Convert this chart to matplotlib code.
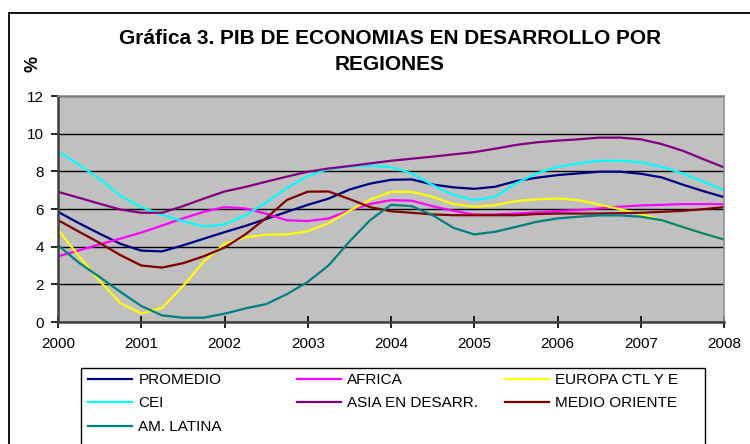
import numpy as np
import matplotlib.pyplot as plt
from matplotlib.patches import Rectangle

plt.rcParams['font.family'] = ['Liberation Sans', 'DejaVu Sans']

# trimestres 2000 - 2008
trimestres = np.arange(2000, 2008.01, 0.25)

promedio = [5.85, 5.25, 4.69, 4.15, 3.79, 3.75, 4.07, 4.42, 4.77, 5.1, 5.47, 5.85, 6.22, 6.55, 7.03, 7.35, 7.55,
            7.57, 7.3, 7.15, 7.07, 7.18, 7.48, 7.66, 7.8, 7.89, 7.98, 7.98, 7.87, 7.68, 7.3, 6.95, 6.63]
africa = [3.49, 3.8, 4.12, 4.43, 4.75, 5.12, 5.5, 5.85, 6.1, 6.03, 5.75, 5.4, 5.36, 5.5, 5.92, 6.27, 6.47,
          6.44, 6.15, 5.9, 5.71, 5.71, 5.76, 5.82, 5.89, 5.94, 6.03, 6.12, 6.19, 6.22, 6.26, 6.26, 6.26]
europa = [4.9, 3.5, 2.18, 1.0, 0.45, 0.75, 1.9, 3.2, 4.15, 4.5, 4.63, 4.65, 4.82, 5.25, 5.9, 6.5, 6.91,
          6.91, 6.65, 6.26, 6.12, 6.2, 6.42, 6.51, 6.56, 6.47, 6.24, 5.99, 5.73, 5.41, 5.05, 4.7, 4.38]
cei = [9.07, 8.35, 7.6, 6.7, 6.1, 5.69, 5.35, 5.07, 5.18, 5.65, 6.35, 7.12, 7.75, 8.13, 8.26, 8.3, 8.23,
       7.89, 7.27, 6.74, 6.47, 6.65, 7.36, 7.89, 8.24, 8.42, 8.56, 8.56, 8.48, 8.24, 7.89, 7.45, 7.0]
asia = [6.91, 6.6, 6.28, 5.97, 5.8, 5.8, 6.15, 6.55, 6.93, 7.17, 7.45, 7.72, 7.98, 8.15, 8.28, 8.42, 8.56,
        8.67, 8.78, 8.9, 9.02, 9.2, 9.4, 9.54, 9.63, 9.7, 9.79, 9.79, 9.7, 9.45, 9.1, 8.65, 8.21]
medio_oriente = [5.41, 4.8, 4.2, 3.55, 3.0, 2.89, 3.12, 3.49, 3.95, 4.65, 5.52, 6.48, 6.92, 6.93, 6.53, 6.1, 5.88,
                 5.8, 5.71, 5.67, 5.67, 5.67, 5.67, 5.73, 5.76, 5.76, 5.76, 5.78, 5.8, 5.85, 5.9, 5.99, 6.1]
am_latina = [4.08, 3.15, 2.39, 1.6, 0.85, 0.35, 0.23, 0.23, 0.44, 0.72, 0.95, 1.48, 2.13, 3.0, 4.27, 5.41, 6.22,
             6.15, 5.67, 5.0, 4.65, 4.79, 5.05, 5.32, 5.5, 5.59, 5.66, 5.66, 5.59, 5.41, 5.05, 4.7, 4.38]

series = [
    ('PROMEDIO', promedio, '#000080'),
    ('AFRICA', africa, '#FF00FF'),
    ('EUROPA CTL Y E', europa, '#FFFF00'),
    ('CEI', cei, '#00FFFF'),
    ('ASIA EN DESARR.', asia, '#800080'),
    ('MEDIO ORIENTE', medio_oriente, '#800000'),
    ('AM. LATINA', am_latina, '#008080'),
]
anios = [2000, 2001, 2002, 2003, 2004, 2005, 2006, 2007, 2008]

W, H = 750, 444
fig = plt.figure(figsize=(W / 100, H / 100), dpi=100)
ax = fig.add_axes([58 / W, 1 - 322 / H, (724 - 58) / W, (322 - 96) / H])
ax.set_facecolor('#C0C0C0')

lines = {}
for nombre, valores, color in series:
    lines[nombre], = ax.plot(trimestres, valores, color=color, lw=1.6, label=nombre)

ax.set_xlim(2000, 2008)
ax.set_ylim(0, 12)
ax.set_xticks(anios)
ax.set_yticks(range(0, 13, 2))
ax.tick_params(axis='both', labelsize=11, colors='black', length=5, width=1.2)
ax.tick_params(axis='x', direction='inout', length=9, pad=6)
ax.tick_params(axis='y', pad=5)
ax.grid(axis='y', color='black', lw=1)
ax.set_axisbelow(True)
for s in ['left', 'bottom']:
    ax.spines[s].set_color('#404040')
    ax.spines[s].set_linewidth(1.8)
for s in ['top', 'right']:
    ax.spines[s].set_color('#909090')
    ax.spines[s].set_linewidth(1.2)

fig.text(390 / W, 1 - 39 / H, 'Gráfica 3. PIB DE ECONOMIAS EN DESARROLLO POR', ha='center', va='center',
         fontsize=15, fontweight='bold')
fig.text(390 / W, 1 - 65 / H, 'REGIONES', ha='center', va='center', fontsize=15, fontweight='bold')
fig.text(33 / W, 1 - 64 / H, '%', ha='center', va='center', rotation=90, fontsize=13, fontweight='bold')

# marco exterior y marco de la leyenda
fig.patches.append(Rectangle((9 / W, -0.1), 1.0, 1.1 - 13 / H, transform=fig.transFigure,
                             fill=False, ec='black', lw=1.3))
fig.patches.append(Rectangle((81 / W, -0.1), (705 - 81) / W, 0.1 + 1 - 368 / H, transform=fig.transFigure,
                             fill=False, ec='black', lw=1))

columnas = [['PROMEDIO', 'CEI', 'AM. LATINA'],
            ['AFRICA', 'ASIA EN DESARR.'],
            ['EUROPA CTL Y E', 'MEDIO ORIENTE']]
x_col = [88, 297, 505]
for cols, x0 in zip(columnas, x_col):
    fig.legend([lines[n] for n in cols], cols, loc='upper left', bbox_to_anchor=(x0 / W, 1 - 373 / H),
               frameon=False, fontsize=11, handlelength=2.9, handletextpad=0.4, labelspacing=0.62,
               borderpad=0, borderaxespad=0)

fig.savefig('out.png', dpi=100)
